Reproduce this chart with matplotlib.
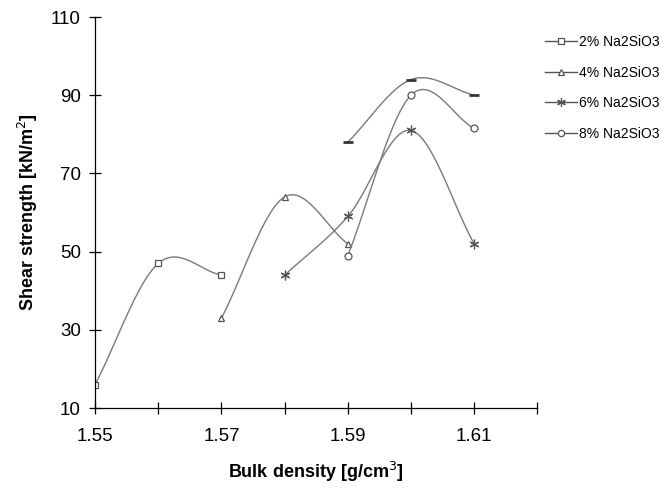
import matplotlib

matplotlib.use("Agg")
import matplotlib.pyplot as plt  # noqa: E402
import numpy as np  # noqa: E402

plt.rcParams["font.family"] = ["Liberation Sans", "DejaVu Sans"]

# values
X_2 = [1.55, 1.56, 1.57]
Y_2 = [16, 47, 44]
X_4 = [1.57, 1.58, 1.59]
Y_4 = [33, 64, 52]
X_6 = [1.58, 1.59, 1.60, 1.61]
Y_6 = [44, 59, 81, 52]
X_8 = [1.59, 1.60, 1.61]
Y_8 = [49, 90, 81.5]
# unlabelled top series (dash markers, not in the legend)
X_TOP = [1.59, 1.60, 1.61]
Y_TOP = [78, 94, 90]

LABELS = ["2% Na2SiO3", "4% Na2SiO3", "6% Na2SiO3", "8% Na2SiO3"]
MARKERS = ["s", "^", (6, 2, 0), "o"]
MSIZE = [5, 5, 7, 5]


def smooth(xs, ys, n=40):
    # Catmull-Rom style curve through the points, like a spreadsheet "smoothed line"
    xs, ys = np.asarray(xs, float), np.asarray(ys, float)
    px = np.concatenate([[2 * xs[0] - xs[1]], xs, [2 * xs[-1] - xs[-2]]])
    py = np.concatenate([[2 * ys[0] - ys[1]], ys, [2 * ys[-1] - ys[-2]]])
    ox, oy = [], []
    t = np.linspace(0, 1, n)
    for i in range(1, len(px) - 2):
        for p, out in ((px, ox), (py, oy)):
            p0, p1, p2, p3 = p[i - 1], p[i], p[i + 1], p[i + 2]
            c1 = p1 + (p2 - p0) / 6
            c2 = p2 - (p3 - p1) / 6
            out.extend((1 - t) ** 3 * p1 + 3 * (1 - t) ** 2 * t * c1
                       + 3 * (1 - t) * t ** 2 * c2 + t ** 3 * p2)
    return ox, oy


fig = plt.figure(figsize=(6.65, 4.87), dpi=100)
ax = fig.add_axes([0.143, 0.162, 0.665, 0.803])

line_col = "#7a7a7a"
mk_col = "#555555"
series = [(X_2, Y_2), (X_4, Y_4), (X_6, Y_6), (X_8, Y_8)]
for (xs, ys), lab, mk, ms in zip(series, LABELS, MARKERS, MSIZE):
    sx, sy = smooth(xs, ys)
    ax.plot(sx, sy, color=line_col, lw=1.0)
    ax.plot(xs, ys, ls="none", marker=mk, ms=ms, mfc="white", mec=mk_col, mew=0.9)
    ax.plot([], [], color="#555555", lw=1.0, marker=mk, ms=ms * 0.9, mfc="white",
            mec=mk_col, mew=0.9, label=lab)

sx, sy = smooth(X_TOP, Y_TOP)
ax.plot(sx, sy, color=line_col, lw=1.0)
ax.plot(X_TOP, Y_TOP, ls="none", marker="_", ms=7, mec="#333333", mew=2)

ax.set_xlim(1.55, 1.62)
ax.set_ylim(10, 110)
ax.set_xticks(np.arange(1.55, 1.6251, 0.01))
ax.set_xticklabels(["1.55", "", "1.57", "", "1.59", "", "1.61", ""])
ax.set_yticks(range(10, 111, 20))
ax.tick_params(direction="inout", length=8.6, width=0.9, labelsize=13.5, colors="black")
ax.tick_params(axis="x", pad=10)
ax.tick_params(axis="y", pad=6)
ax.spines[["top", "right"]].set_visible(False)
ax.spines[["left", "bottom"]].set_linewidth(0.9)

ax.set_xlabel("Bulk density [g/cm$^3$]", fontsize=13, fontweight="bold", labelpad=11)
ax.set_ylabel("Shear strength [kN/m$^2$]", fontsize=13, fontweight="bold", labelpad=8)

fig.legend(loc="upper left", bbox_to_anchor=(545 / 665, 1 - 35 / 487), frameon=False,
           fontsize=10, handlelength=2.3, labelspacing=1.2, handletextpad=0.15,
           borderpad=0, borderaxespad=0)

fig.savefig("out.png", dpi=100)
